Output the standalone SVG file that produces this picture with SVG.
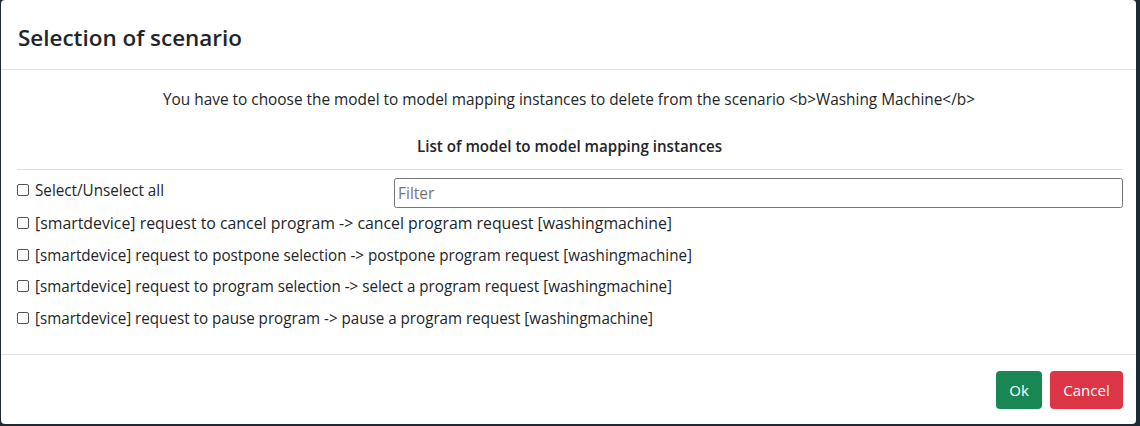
<svg xmlns="http://www.w3.org/2000/svg" width="1140" height="426" viewBox="0 0 1140 426">
<style>
text{font-family:"Open Sans","Noto Sans",sans-serif;fill:#212529}
.t{font-size:15.5px}
.cb{fill:#fff;stroke:#555;stroke-width:1}
.hr{stroke:#dee2e6;stroke-width:1}
</style>
<rect width="1140" height="426" fill="#1e2a33"/>
<rect x="1" y="0" width="1135" height="424" rx="4" fill="#fff"/>
<text x="18" y="46" font-size="22" font-weight="600" textLength="224" lengthAdjust="spacingAndGlyphs">Selection of scenario</text>
<line class="hr" x1="1" y1="69.5" x2="1136" y2="69.5"/>
<text class="t" x="163" y="105" textLength="812" lengthAdjust="spacingAndGlyphs">You have to choose the model to model mapping instances to delete from the scenario &lt;b&gt;Washing Machine&lt;/b&gt;</text>
<text class="t" x="417" y="152" font-weight="600" textLength="305" lengthAdjust="spacingAndGlyphs">List of model to model mapping instances</text>
<line class="hr" x1="17" y1="169.5" x2="1123" y2="169.5"/>
<rect class="cb" x="17.5" y="184.5" width="11" height="11" rx="1.5"/>
<text class="t" x="35" y="196" textLength="129" lengthAdjust="spacingAndGlyphs">Select/Unselect all</text>
<rect x="394.5" y="178.5" width="728" height="29" rx="2" fill="#fff" stroke="#767676"/>
<text class="t" x="398" y="199" style="fill:#757575">Filter</text>
<rect class="cb" x="17.5" y="217.5" width="11" height="11" rx="1.5"/>
<text class="t" x="35" y="229" textLength="637" lengthAdjust="spacingAndGlyphs">[smartdevice] request to cancel program -&gt; cancel program request [washingmachine]</text>
<rect class="cb" x="17.5" y="249.5" width="11" height="11" rx="1.5"/>
<text class="t" x="35" y="261" textLength="657" lengthAdjust="spacingAndGlyphs">[smartdevice] request to postpone selection -&gt; postpone program request [washingmachine]</text>
<rect class="cb" x="17.5" y="280.5" width="11" height="11" rx="1.5"/>
<text class="t" x="35" y="292" textLength="637" lengthAdjust="spacingAndGlyphs">[smartdevice] request to program selection -&gt; select a program request [washingmachine]</text>
<rect class="cb" x="17.5" y="312.5" width="11" height="11" rx="1.5"/>
<text class="t" x="35" y="324" textLength="618" lengthAdjust="spacingAndGlyphs">[smartdevice] request to pause program -&gt; pause a program request [washingmachine]</text>
<line class="hr" x1="1" y1="354.5" x2="1136" y2="354.5"/>
<rect x="996" y="371" width="46" height="38" rx="4" fill="#198754"/>
<text x="1019" y="396" font-size="15" text-anchor="middle" style="fill:#fff">Ok</text>
<rect x="1050" y="371" width="73" height="38" rx="4" fill="#dc3545"/>
<text x="1086.5" y="396" font-size="15" text-anchor="middle" style="fill:#fff">Cancel</text>
</svg>
